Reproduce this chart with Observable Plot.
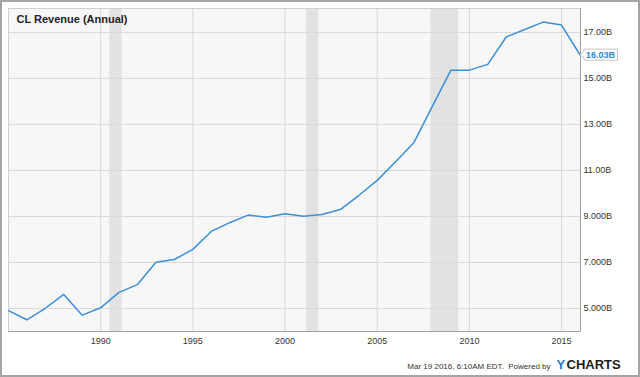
<!DOCTYPE html>
<html><head>
<meta charset="utf-8">
<script src="https://cdn.jsdelivr.net/npm/d3@7"></script>
<script src="https://cdn.jsdelivr.net/npm/@observablehq/plot@0.6"></script>
<style>
body{margin:0;background:#fff;}
#wrap{position:relative;width:640px;height:377px;overflow:hidden;}
#border{position:absolute;left:0;top:0;width:640px;height:377px;box-sizing:border-box;border:2px solid #a4a4a4;pointer-events:none;}
</style></head><body>
<div id="wrap"><div id="chart"></div><div id="border"></div></div>
<script>
const fiscalYears = [1984,1985,1986,1987,1988,1989,1990,1991,1992,1993,1994,1995,1996,1997,1998,1999,2000,2001,2002,2003,2004,2005,2006,2007,2008,2009,2010,2011,2012,2013,2014,2015];
const revenueB = [4.91,4.51,5.01,5.61,4.71,5.03,5.70,6.04,7.01,7.13,7.57,8.35,8.73,9.06,8.97,9.12,9.01,9.09,9.30,9.91,10.57,11.38,12.22,13.80,15.36,15.36,15.61,16.80,17.13,17.45,17.32,16.03];
const recessionStarts = ["1990-07-01","2001-03-01","2007-12-01"];
const recessionEnds = ["1991-03-01","2001-11-01","2009-06-01"];
const yTicks = [5,7,9,11,13,15,17];
const yTickLabels = ["5.000B","7.000B","9.000B","11.00B","13.00B","15.00B","17.00B"];
const xTickYears = [1990,1995,2000,2005,2010,2015];
const titleText = "CL Revenue (Annual)";
const footerText = "Mar 19 2016, 6:10AM EDT.  Powered by";
const lastLabel = "16.03B";

const data = fiscalYears.map((y,i)=>({date:new Date(Date.UTC(y,11,31)), value:revenueB[i]}));
const recessions = recessionStarts.map((s,i)=>({start:new Date(s), end:new Date(recessionEnds[i])}));
const xTicks = xTickYears.map(y=>new Date(Date.UTC(y,0,1)));
const xDomain = [new Date(Date.UTC(1985,0,1)), new Date(Date.UTC(2016,0,11))];
const yDomain = [4, 18.04];
const font = "Arial, 'Liberation Sans', sans-serif";

const plot = Plot.plot({
  width: 640, height: 377,
  marginLeft: 8, marginRight: 60, marginTop: 8, marginBottom: 46,
  style: {fontFamily: font, background: "transparent", overflow: "visible"},
  x: {type: "utc", domain: xDomain, label: null},
  y: {domain: yDomain, label: null},
  marks: [
    Plot.frame({fill: "#f7f7f7", stroke: null}),
    Plot.rect(recessions, {x1: "start", x2: "end", fill: "#e2e2e2"}),
    Plot.gridX(xTicks, {stroke: "#d9d9d9", strokeOpacity: 1}),
    Plot.gridY(yTicks, {stroke: "#d9d9d9", strokeOpacity: 1}),
    Plot.frame({stroke: "#d0d0d0"}),
    Plot.ruleX([xDomain[1]], {stroke: "#a0a0a0"}),
    Plot.ruleY([yDomain[0]], {stroke: "#a0a0a0"}),
    Plot.axisX({ticks: xTicks, tickFormat: "%Y", tickSize: 0, tickPadding: 6, fontSize: 9, fill: "#333"}),
    Plot.axisY({anchor: "right", ticks: yTicks, tickFormat: d => yTickLabels[yTicks.indexOf(d)], tickSize: 0, tickPadding: 3, fontSize: 9, fill: "#333"}),
    Plot.line(data, {x: "date", y: "value", stroke: "#3d8fd9", strokeWidth: 1.5}),
    Plot.text([titleText], {frameAnchor: "top-left", dx: 8, dy: 6.5, lineAnchor: "top", textAnchor: "start", fontSize: 11, fontWeight: "bold", fill: "#222"}),
    Plot.text([footerText], {frameAnchor: "bottom-right", dx: -30, dy: 34.5, lineAnchor: "middle", textAnchor: "end", fontSize: 8, fill: "#333"}),
    Plot.text(["Y"], {frameAnchor: "bottom-right", dx: -24, dy: 33, lineAnchor: "middle", textAnchor: "start", fontSize: 13, fontWeight: "bold", fill: "#1f7fd4"}),
    Plot.text(["CHARTS"], {frameAnchor: "bottom-right", dx: -14, dy: 33, lineAnchor: "middle", textAnchor: "start", fontSize: 13, fontWeight: "bold", fill: "#1c1c1c", style: {letterSpacing: "1.9px"}}),
    Plot.text([data[data.length-1]], {x: "date", y: "value", text: () => lastLabel, dx: 6, textAnchor: "start", fontSize: 9, fontWeight: "bold", fill: "#2a86d8", className: "lastlab"})
  ]
});
document.getElementById("chart").appendChild(plot);

// label box for last value
const svg = d3.select(plot);
const lab = svg.select(".lastlab text");
if (!lab.empty()) {
  const n = lab.node();
  const bb = n.getBBox();
  const m = n.getCTM();
  const px = plot.scale("x").apply(data[data.length-1].date);
  const py = plot.scale("y").apply(data[data.length-1].value);
  const bx = bb.x + m.e, by = bb.y + m.f;
  const x0 = bx - 2, x1 = bx + bb.width + 2, y0 = by - 0.5, y1 = by + bb.height + 0.5;
  const cy = (y0 + y1) / 2;
  const p = `M${x0},${y0}H${x1}V${y1}H${x0}V${cy+3}L${px+0.5},${py+0.5}L${x0},${cy-3}Z`;
  const lg = lab.node().parentNode;
  svg.insert("path", function(){ return lg.parentNode === plot ? lg : lg.parentNode; })
    .attr("d", p).attr("fill", "#fff").attr("stroke", "#c4c4c4").attr("stroke-width", 1);
}
</script>
</body></html>
